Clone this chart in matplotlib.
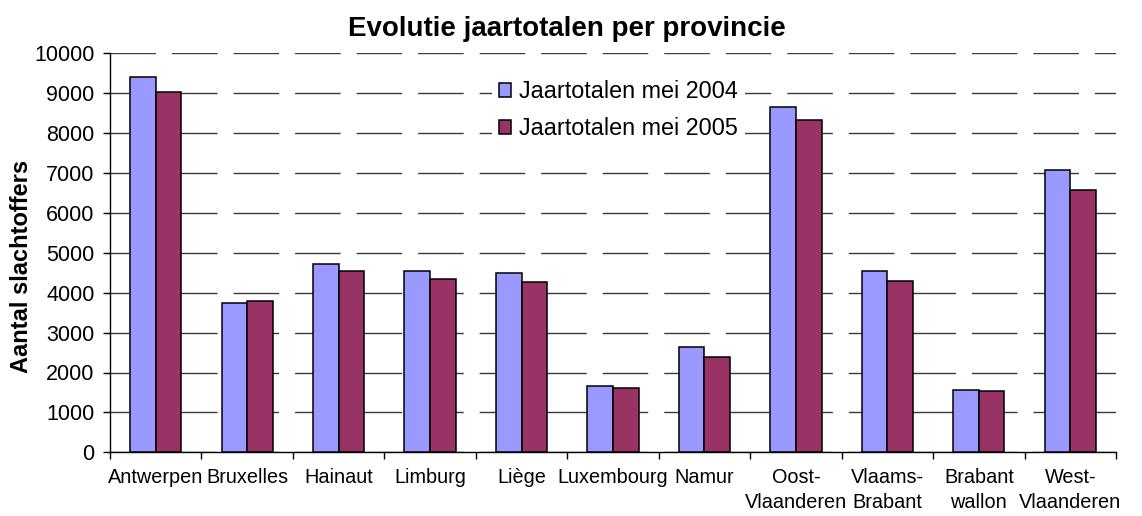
import matplotlib
matplotlib.use("Agg")
import matplotlib.pyplot as plt
import numpy as np

categories = ["Antwerpen", "Bruxelles", "Hainaut", "Limburg", "Liège", "Luxembourg",
              "Namur", "Oost-\nVlaanderen", "Vlaams-\nBrabant", "Brabant\nwallon", "West-\nVlaanderen"]
totals_2004 = [9400, 3750, 4720, 4540, 4490, 1670, 2640, 8660, 4540, 1570, 7080]
totals_2005 = [9030, 3800, 4540, 4350, 4260, 1620, 2400, 8340, 4300, 1530, 6570]
series_labels = ["Jaartotalen mei 2004", "Jaartotalen mei 2005"]
yticks = [0, 1000, 2000, 3000, 4000, 5000, 6000, 7000, 8000, 9000, 10000]
title = "Evolutie jaartotalen per provincie"
ylabel = "Aantal slachtoffers"

plt.rcParams['font.family'] = ['Liberation Sans', 'DejaVu Sans']
plt.rcParams['lines.scale_dashes'] = False

W, H = 1142, 516
fig = plt.figure(figsize=(W / 100, H / 100), dpi=100)
ax = fig.add_axes([110 / W, 1 - 452.3 / H, (1116 - 110) / W, (452.3 - 53.3) / H])

x = np.arange(len(categories))
bw = 0.28
ax.bar(x - bw / 2, totals_2004, bw, color="#9999FF", edgecolor="black", linewidth=1.1,
       label=series_labels[0], zorder=3)
ax.bar(x + bw / 2, totals_2005, bw, color="#993366", edgecolor="black", linewidth=1.1,
       label=series_labels[1], zorder=3)

ax.set_xlim(-0.5, len(categories) - 0.5)
ax.set_ylim(0, 10000)
ax.set_yticks(yticks)
ax.set_yticklabels([str(v) for v in yticks], fontsize=15.5)
ax.set_xticks(x)
ax.set_xticklabels(categories, fontsize=14.3, linespacing=1.45)
ax.set_xticks(np.arange(-0.5, len(categories), 1.0), minor=True)
ax.tick_params(axis='x', which='major', length=0, pad=11)
ax.tick_params(axis='x', which='minor', length=5, width=1, direction='out')
ax.tick_params(axis='y', length=5, width=1, direction='out', pad=6)

for s in ['top', 'right']:
    ax.spines[s].set_visible(False)
for s in ['left', 'bottom']:
    ax.spines[s].set_linewidth(1)
    ax.spines[s].set_color('black')

ax.set_axisbelow(True)
ax.yaxis.grid(True, color='#3a3a3a', linewidth=1.0, linestyle=(0, (32.8, 11.5)), zorder=0)
ax.set_facecolor('white')

fig.text(567 / W, 1 - 29 / H, title, ha='center', va='center', fontsize=20, fontweight='bold')
fig.text(22 / W, 1 - 266 / H, ylabel, ha='center', va='center', rotation=90,
         fontsize=17, fontweight='bold')

leg = ax.legend(loc='upper left', bbox_to_anchor=(492 / W, 1 - 73 / H),
                bbox_transform=fig.transFigure, fontsize=16.8, frameon=True,
                fancybox=False, edgecolor='none', facecolor='white', framealpha=1,
                handlelength=0.52, handleheight=0.52, handletextpad=0.35,
                labelspacing=0.62, borderpad=0.3, borderaxespad=0)
leg.set_zorder(5)

fig.savefig("out.png", dpi=100)
